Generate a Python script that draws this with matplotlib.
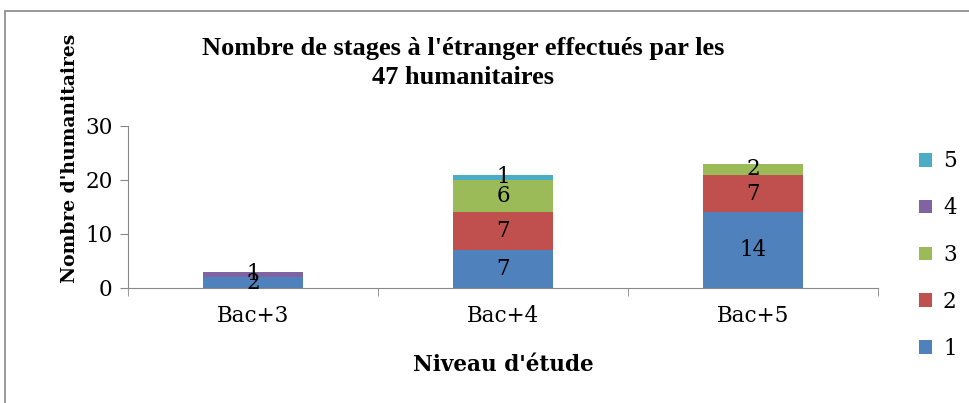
import matplotlib.pyplot as plt
import numpy as np
from matplotlib.patches import Rectangle

niveaux = ["Bac+3", "Bac+4", "Bac+5"]
series = ["1", "2", "3", "4", "5"]
s1 = [2, 7, 14]
s2 = [0, 7, 7]
s3 = [0, 6, 2]
s4 = [1, 0, 0]
s5 = [0, 1, 0]
couleurs = ["#4F81BD", "#C0504D", "#9BBB59", "#8064A2", "#4BACC6"]

fig = plt.figure(figsize=(9.7, 4.03), dpi=100)
ax = fig.add_axes([128/970, 1-288/403, 750/970, 162/403])

x = np.arange(len(niveaux))
bas = np.zeros(len(niveaux))
handles = []
for nom, vals, c in zip(series, [s1, s2, s3, s4, s5], couleurs):
    vals = np.array(vals)
    b = ax.bar(x, vals, 0.4, bottom=bas, color=c, label=nom)
    handles.append(b)
    for xi, v, y0 in zip(x, vals, bas):
        if v > 0:
            ax.text(xi, y0 + v/2, str(v), ha="center", va="center",
                    fontsize=15.5, family="DejaVu Serif", color="black")
    bas = bas + vals

ax.set_xlim(-0.5, 2.5)
ax.set_ylim(0, 30)
ax.set_yticks([0, 10, 20, 30])
ax.set_xticks(x)
ax.set_xticklabels(niveaux)
ax.set_xticks([-0.5, 0.5, 1.5, 2.5], minor=True)
ax.tick_params(axis="x", which="major", length=0, pad=12)
ax.tick_params(axis="x", which="minor", length=6, color="#888888")
ax.tick_params(axis="y", length=6, color="#888888", pad=5)
for lab in ax.get_xticklabels() + ax.get_yticklabels():
    lab.set_fontsize(15.5)
    lab.set_family("DejaVu Serif")
ax.spines["top"].set_visible(False)
ax.spines["right"].set_visible(False)
ax.spines["left"].set_color("#888888")
ax.spines["bottom"].set_color("#888888")

ax.set_xlabel("Niveau d'étude", fontsize=15.5, fontweight="bold", family="DejaVu Serif", labelpad=20)
fig.text(70/970, 1-158/403, "Nombre d'humanitaires", rotation=90, ha="center", va="center",
         fontsize=13.5, fontweight="bold", family="DejaVu Serif")
fig.text(463/970, 1-63/403, "Nombre de stages à l'étranger effectués par les\n47 humanitaires",
         ha="center", va="center", fontsize=19, fontweight="bold", family="Liberation Serif",
         linespacing=1.35)

leg = fig.legend(handles[::-1], series[::-1], loc="center left",
                 bbox_to_anchor=(900/970, 1-255/403), frameon=False,
                 prop={"family": "DejaVu Serif", "size": 15.5}, handlelength=0.6,
                 handleheight=0.6, labelspacing=1.15, handletextpad=0.5)

fig.patches.append(Rectangle((5/970, -0.05), 1.0, 1.05-11/403, transform=fig.transFigure,
                             fill=False, edgecolor="#888888", linewidth=1.2))

fig.savefig("out.png", dpi=100)
